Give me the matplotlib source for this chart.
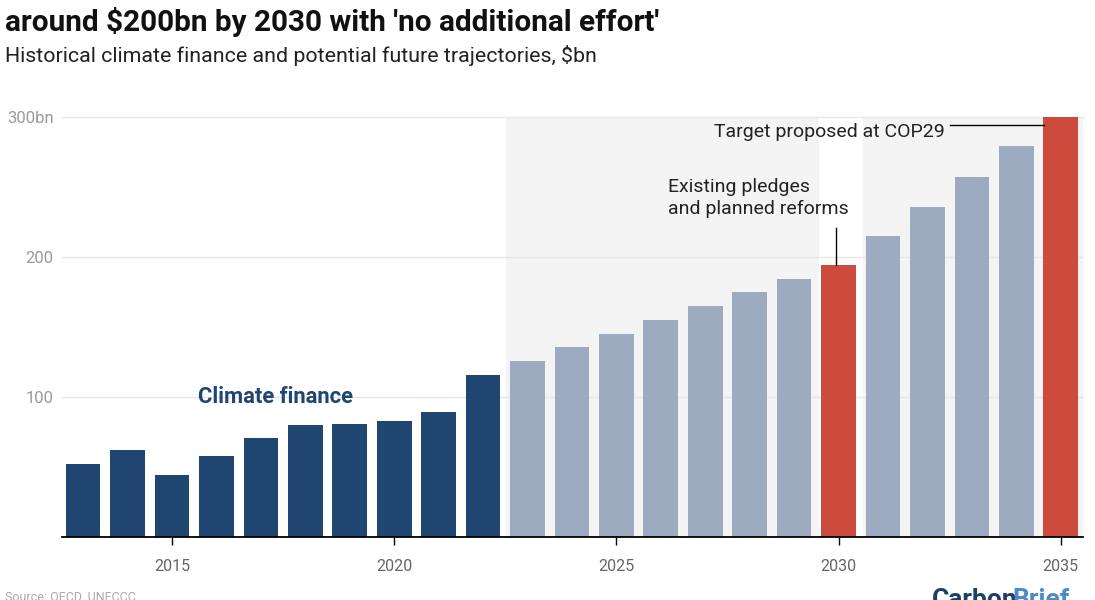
import matplotlib.pyplot as plt
import numpy as np

years = list(range(2013, 2036))
historical = [52, 62, 44, 58, 71, 80, 80.5, 83, 89, 116]
projected = [126, 136, 145, 155, 165, 175, 184, 194, 215, 236, 257, 279, 300]
highlight_years = [2030, 2035]
xtick_years = [2015, 2020, 2025, 2030, 2035]
ytick_vals = [100, 200, 300]
ytick_labels = ['100', '200', '300bn']

dark_blue = '#1f4571'
grey_blue = '#9cabbf'
red = '#cc4b3c'

values = historical + projected
colors = []
for i, y in enumerate(years):
    if i < len(historical):
        colors.append(dark_blue)
    elif y in highlight_years:
        colors.append(red)
    else:
        colors.append(grey_blue)

fig = plt.figure(figsize=(10.95, 6.0), dpi=100)
ax = fig.add_axes([62 / 1095, 1 - 537 / 600, (1083 - 62) / 1095, (537 - 117) / 600])

ax.set_xlim(2012.525, 2035.5)
ax.set_ylim(0, 300)

# shaded projection regions
ax.axvspan(2022.52, 2029.56, color='#f4f4f4', zorder=0, lw=0)
ax.axvspan(2030.54, 2035.5, color='#f4f4f4', zorder=0, lw=0)

ax.bar(years, values, width=0.78, color=colors, zorder=3)

for v in ytick_vals:
    ax.axhline(v, color='#e6e6e6', lw=1, zorder=1, clip_on=False)

ax.set_yticks(ytick_vals)
ax.set_yticklabels(ytick_labels, fontsize=12, color='#9a9a9a', family='Roboto')
ax.tick_params(axis='y', length=0, pad=6)
ax.set_xticks(xtick_years)
ax.set_xticklabels([str(y) for y in xtick_years], fontsize=11.5, color='#666666', family='Roboto')
ax.tick_params(axis='x', length=6, width=1, color='black', pad=10)

for s in ['top', 'right', 'left']:
    ax.spines[s].set_visible(False)
ax.spines['bottom'].set_color('black')
ax.spines['bottom'].set_linewidth(1.3)
ax.spines['bottom'].set_zorder(5)

# annotations
ax.text(2017.34, 100, 'Climate finance', fontsize=15.8, fontweight='bold', color=dark_blue,
        ha='center', va='center', family='Roboto', zorder=4)
ax.text(2032.39, 289, 'Target proposed at COP29', fontsize=14, color='#222222',
        ha='right', va='center', family='Roboto', zorder=4)
ax.plot([2032.5, 2034.62], [294.5, 294.5], color='black', lw=1, zorder=4)
ax.text(2026.16, 242, 'Existing pledges\nand planned reforms', fontsize=14, color='#222222',
        ha='left', va='center', family='Roboto', linespacing=1.3, zorder=4)
ax.plot([2029.94, 2029.94], [221, 194], color='black', lw=1, zorder=4)

fig.text(5 / 1095, 1 - 22 / 600, "around $200bn by 2030 with 'no additional effort'",
         fontsize=21.4, fontweight='bold', family='Roboto', ha='left', va='center', color='#111111')
fig.text(5 / 1095, 1 - 55 / 600, 'Historical climate finance and potential future trajectories, $bn',
         fontsize=15.4, family='Roboto', ha='left', va='center', color='#222222')

# footer, cut off at the bottom edge as in the original
fig.text(5 / 1095, -4 / 600, 'Source: OECD, UNFCCC', fontsize=9, color='#aaaaaa',
         family='Roboto', ha='left', va='bottom')
fig.text(932 / 1095, -12 / 600, 'Carbon', fontsize=19, fontweight='bold', color='#1f3f66',
         family='Roboto', ha='left', va='bottom')
fig.text(1012 / 1095, -12 / 600, 'Brief', fontsize=19, fontweight='bold', color='#4d8ac9',
         family='Roboto', ha='left', va='bottom')

fig.savefig('out.png', dpi=100)
